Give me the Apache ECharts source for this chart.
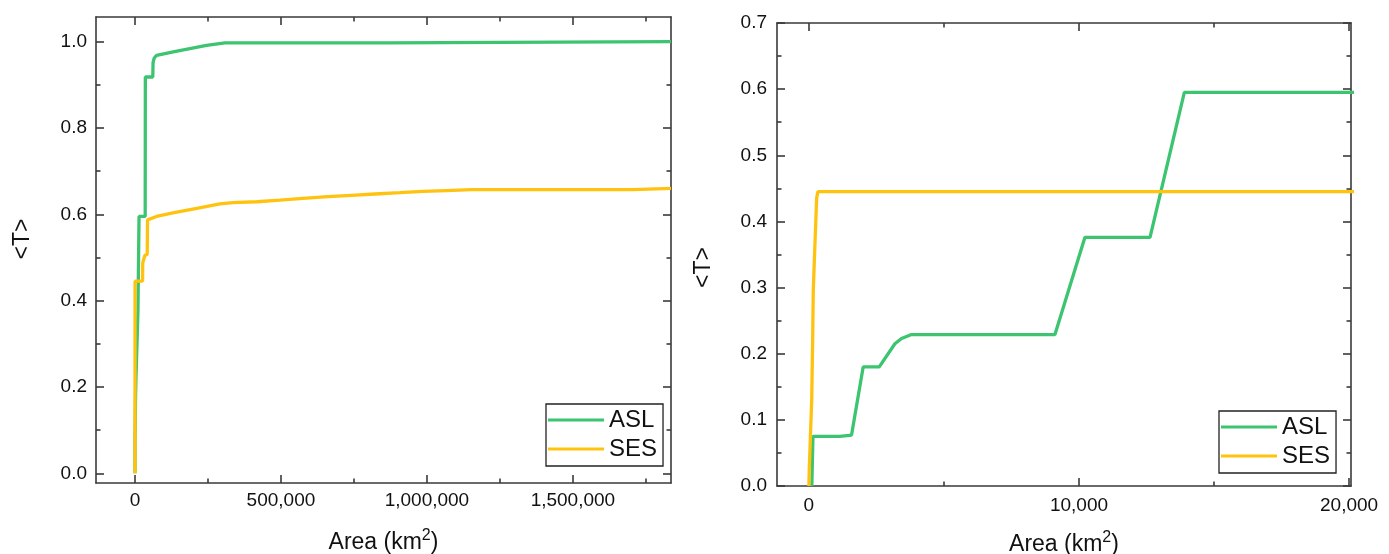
<!DOCTYPE html>
<html><head><meta charset="utf-8">
<script src="https://cdn.jsdelivr.net/npm/echarts@6/dist/echarts.min.js"></script>
<style>html,body{margin:0;padding:0;background:#fff}#c{width:1389px;height:554px}</style>
</head><body><div id="c"></div>
<script>
// ---- data ----
const seriesNames = ['ASL', 'SES'];
const aslData = [[110,0],[150,0.075],[1150,0.075],[1200,0.077],[1580,0.077],[2010,0.18],[2605,0.18],[3185,0.215],[3430,0.223],[3800,0.229],[9110,0.229],[10220,0.376],[12630,0.376],[13900,0.595],[35000,0.595],[35500,0.918],[61000,0.918],[62000,0.952],[66000,0.962],[74000,0.968],[131000,0.976],[188000,0.984],[245000,0.991],[308000,0.997],[865000,0.997],[866000,1.0],[1836000,1.0]];
const sesData = [[0,0],[15,0.026],[104,0.129],[141,0.223],[163,0.296],[226,0.367],[289,0.436],[337,0.445],[26000,0.445],[26500,0.487],[32000,0.49],[34000,0.505],[42000,0.507],[43000,0.587],[74000,0.595],[130000,0.603],[216000,0.614],[291000,0.624],[336000,0.627],[417000,0.629],[497000,0.633],[575000,0.637],[661000,0.641],[742000,0.644],[822000,0.647],[908000,0.65],[986000,0.653],[1067000,0.655],[1153000,0.657],[1705000,0.657],[1710000,0.66],[1836000,0.66]];
const leftXMajor = [0, 500000, 1000000, 1500000];
const leftXMinor = [250000, 750000, 1250000, 1750000];
const leftYMajor = [0, 0.2, 0.4, 0.6, 0.8, 1.0];
const leftYMinor = [0.1, 0.3, 0.5, 0.7, 0.9];
const rightXMajor = [0, 10000, 20000];
const rightXMinor = [5000, 15000];
const rightYMajor = [0, 0.1, 0.2, 0.3, 0.4, 0.5, 0.6, 0.7];
const rightYMinor = [0.05, 0.15, 0.25, 0.35, 0.45, 0.55, 0.65];
const xName = '{a|Area (km}{s|2}{a|)}';
const yName = '<T>';

// ---- style ----
const FONT = '"Liberation Sans", Arial, sans-serif';
const AX = '#3a3a3a';
const TXT = '#111';
const COLORS = ['#3cc471', '#ffc30f'];
const ranges = {
  left: {x: [-133500, 1836000], y: [-0.0225, 1.057]},
  right: {x: [-1180, 20070], y: [0, 0.7]}
};

function axis(grid, pos, range, ticks, len, opt) {
  opt = opt || {};
  return Object.assign({
    type: 'value', gridIndex: grid, position: pos, min: range[0], max: range[1],
    axisLine: {show: !!opt.line, onZero: false, lineStyle: {color: AX, width: 1.6}},
    axisTick: {show: true, inside: true, length: len, customValues: ticks, lineStyle: {color: AX, width: 1.6}},
    axisLabel: {show: !!opt.fmt, customValues: ticks, formatter: opt.fmt, fontFamily: FONT, fontSize: 19, color: TXT, margin: opt.margin || 8},
    splitLine: {show: false}
  }, opt.extra || {});
}
const fmtX = v => Number(v).toLocaleString('en-US');
const fmtY = v => Number(v).toFixed(1);
const xNameStyle = (gap) => ({
  name: xName, nameLocation: 'middle', nameGap: gap,
  nameTextStyle: {rich: {
    a: {fontFamily: FONT, fontSize: 23, color: TXT, lineHeight: 26, verticalAlign: 'bottom'},
    s: {fontFamily: FONT, fontSize: 16, color: TXT, lineHeight: 14, verticalAlign: 'top'}
  }}
});
const yNameStyle = (gap, pad) => ({
  name: yName, nameLocation: 'middle', nameGap: gap,
  nameTextStyle: {fontFamily: FONT, fontSize: 23, color: TXT, padding: pad}
});

const xAxes = [
  axis(0, 'bottom', ranges.left.x, leftXMajor, 8, {line: true, fmt: fmtX, extra: xNameStyle(45)}),
  axis(0, 'bottom', ranges.left.x, leftXMinor, 4.5),
  axis(0, 'top', ranges.left.x, leftXMajor, 8, {line: true}),
  axis(0, 'top', ranges.left.x, leftXMinor, 4.5),
  axis(1, 'bottom', ranges.right.x, rightXMajor, 8, {line: true, fmt: fmtX, margin: 10, extra: xNameStyle(44)}),
  axis(1, 'bottom', ranges.right.x, rightXMinor, 4.5),
  axis(1, 'top', ranges.right.x, rightXMajor, 8, {line: true}),
  axis(1, 'top', ranges.right.x, rightXMinor, 4.5)
];
const yAxes = [
  axis(0, 'left', ranges.left.y, leftYMajor, 8, {line: true, fmt: fmtY, margin: 9, extra: yNameStyle(62, [0, 0, 0, 22])}),
  axis(0, 'left', ranges.left.y, leftYMinor, 4.5),
  axis(0, 'right', ranges.left.y, leftYMajor, 8, {line: true}),
  axis(0, 'right', ranges.left.y, leftYMinor, 4.5),
  axis(1, 'left', ranges.right.y, rightYMajor, 8, {line: true, fmt: fmtY, margin: 10, extra: yNameStyle(62, [0, 26, 0, 0])}),
  axis(1, 'left', ranges.right.y, rightYMinor, 4.5),
  axis(1, 'right', ranges.right.y, rightYMajor, 8, {line: true}),
  axis(1, 'right', ranges.right.y, rightYMinor, 4.5)
];

function mkSeries(name, data, color, xi, yi) {
  return {
    name, type: 'line', data, xAxisIndex: xi, yAxisIndex: yi,
    showSymbol: false, symbol: 'none', color, clip: true,
    lineStyle: {color, width: 3.3}, itemStyle: {color}, animation: false
  };
}
const legendBase = {
  orient: 'vertical', data: seriesNames, icon: 'rect', itemWidth: 56, itemHeight: 3, itemGap: 5,
  borderColor: '#222', borderWidth: 1.3, borderRadius: 0, padding: [4, 6, 5, 2],
  textStyle: {fontFamily: FONT, fontSize: 24, color: TXT}, selectedMode: false
};

const chart = echarts.init(document.getElementById('c'), null, {renderer: 'canvas'});
chart.setOption({
  animation: false,
  backgroundColor: '#fff',
  grid: [
    {left: 96, top: 17, width: 575, height: 466, containLabel: false, outerBoundsMode: 'none'},
    {left: 777, top: 23, width: 574, height: 463, containLabel: false, outerBoundsMode: 'none'}
  ],
  xAxis: xAxes,
  yAxis: yAxes,
  legend: [
    Object.assign({}, legendBase, {left: 546, top: 404}),
    Object.assign({}, legendBase, {left: 1219, top: 411})
  ],
  series: [
    mkSeries(seriesNames[0], aslData, COLORS[0], 0, 0),
    mkSeries(seriesNames[1], sesData, COLORS[1], 0, 0),
    mkSeries(seriesNames[0], aslData, COLORS[0], 4, 4),
    mkSeries(seriesNames[1], sesData, COLORS[1], 4, 4)
  ]
});
</script>
</body></html>
